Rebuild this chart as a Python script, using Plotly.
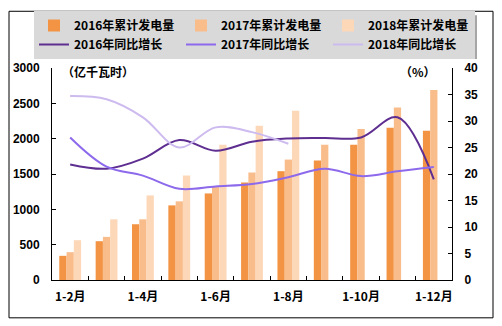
import plotly.graph_objects as go

categories = ["1-2月", "1-3月", "1-4月", "1-5月", "1-6月", "1-7月", "1-8月", "1-9月", "1-10月", "1-11月", "1-12月"]
tick_labels = ["1-2月", "", "1-4月", "", "1-6月", "", "1-8月", "", "1-10月", "", "1-12月"]

gen_2016 = [342, 549, 789, 1056, 1225, 1380, 1540, 1690, 1915, 2155, 2113]
gen_2017 = [394, 610, 859, 1113, 1315, 1521, 1704, 1915, 2136, 2441, 2690]
gen_2018 = [563, 859, 1197, 1479, 1915, 2183, 2394, None, None, None, None]

yoy_2016 = [21.8, 21.0, 22.9, 26.4, 24.4, 26.1, 26.7, 26.8, 26.9, 30.7, 19.0]
yoy_2017 = [26.9, 21.4, 19.7, 17.2, 17.65, 18.1, 19.4, 21.0, 19.6, 20.5, 21.3]
yoy_2018 = [34.7, 34.1, 30.7, 25.0, 28.8, 27.9, 25.7, None, None, None, None]

W, H = 502, 326
L, R, T, B = 52, 50, 67, 46
pw, ph = W - L - R, H - T - B

def px_x(p):
    return (p - L) / pw

def px_y(p):
    return (H - B - p) / ph

cjk = "Noto Sans CJK SC"
fig = go.Figure()

bar_colors = ["#F29443", "#F9BD8C", "#FCD7B8"]
bar_names = ["2016年累计发电量", "2017年累计发电量", "2018年累计发电量"]
for name, vals, c in zip(bar_names, [gen_2016, gen_2017, gen_2018], bar_colors):
    fig.add_trace(go.Bar(x=categories, y=vals, name=name, marker=dict(color=c, line=dict(width=0)),
                         yaxis="y"))

line_colors = ["#5E2E91", "#8D69EC", "#CDBBEF"]
line_names = ["2016年同比增长", "2017年同比增长", "2018年同比增长"]
for name, vals, c in zip(line_names, [yoy_2016, yoy_2017, yoy_2018], line_colors):
    fig.add_trace(go.Scatter(x=categories, y=vals, name=name, mode="lines",
                             line=dict(color=c, width=2, shape="spline", smoothing=1.0),
                             yaxis="y2", connectgaps=False))

tickfont = dict(family="Arial", size=12, color="black", weight="bold")

fig.update_layout(
    width=W, height=H,
    margin=dict(l=L, r=R, t=T, b=B, pad=0),
    paper_bgcolor="white", plot_bgcolor="white",
    barmode="group", bargap=0.4, bargroupgap=0,
    xaxis=dict(type="category", tickmode="array", tickvals=categories, ticktext=tick_labels,
               tickson="boundaries", ticks="inside", ticklen=4, tickcolor="black", tickangle=0,
               ticklabelstandoff=6,
               showline=True, linecolor="black", linewidth=1, showgrid=False,
               tickfont=dict(family=cjk, size=12, color="black", weight="bold"),
               range=[-0.5, 10.5]),
    yaxis=dict(range=[0, 3000], dtick=500, ticks="inside", ticklen=4, tickcolor="black",
               ticklabelstandoff=9,
               showline=True, linecolor="black", linewidth=1, showgrid=False,
               tickfont=tickfont, zeroline=False),
    yaxis2=dict(range=[0, 40], dtick=5, overlaying="y", side="right", ticks="inside", ticklen=4,
                ticklabelstandoff=9,
                tickcolor="black", showline=True, linecolor="black", linewidth=1, showgrid=False,
                tickfont=tickfont, zeroline=False),
    legend=dict(orientation="h", x=px_x(34), y=px_y(11), xanchor="left", yanchor="top",
                bgcolor="#D9D9D9", entrywidth=102, entrywidthmode="pixels", itemwidth=30,
                font=dict(family=cjk, size=12, color="black", weight="bold"),
                traceorder="normal", tracegroupgap=0),
    font=dict(family=cjk, color="black"),
    shapes=[
        dict(type="rect", xref="paper", yref="paper", x0=px_x(9), x1=px_x(493),
             y0=px_y(318), y1=px_y(10), line=dict(color="black", width=1), layer="below"),
        dict(type="rect", xref="paper", yref="paper", x0=px_x(37), x1=px_x(477),
             y0=px_y(58), y1=px_y(14), line=dict(width=0), fillcolor="#A6A6A6", layer="above"),
    ],
    annotations=[
        dict(text="（亿千瓦时）", xref="paper", yref="paper", x=px_x(60), y=px_y(71),
             xanchor="left", yanchor="middle", showarrow=False,
             font=dict(family=cjk, size=12, color="black", weight="bold")),
        dict(text="（%）", xref="paper", yref="paper", x=px_x(398), y=px_y(71),
             xanchor="left", yanchor="middle", showarrow=False,
             font=dict(family=cjk, size=12, color="black", weight="bold")),
    ],
)

fig.write_html("out.html")
